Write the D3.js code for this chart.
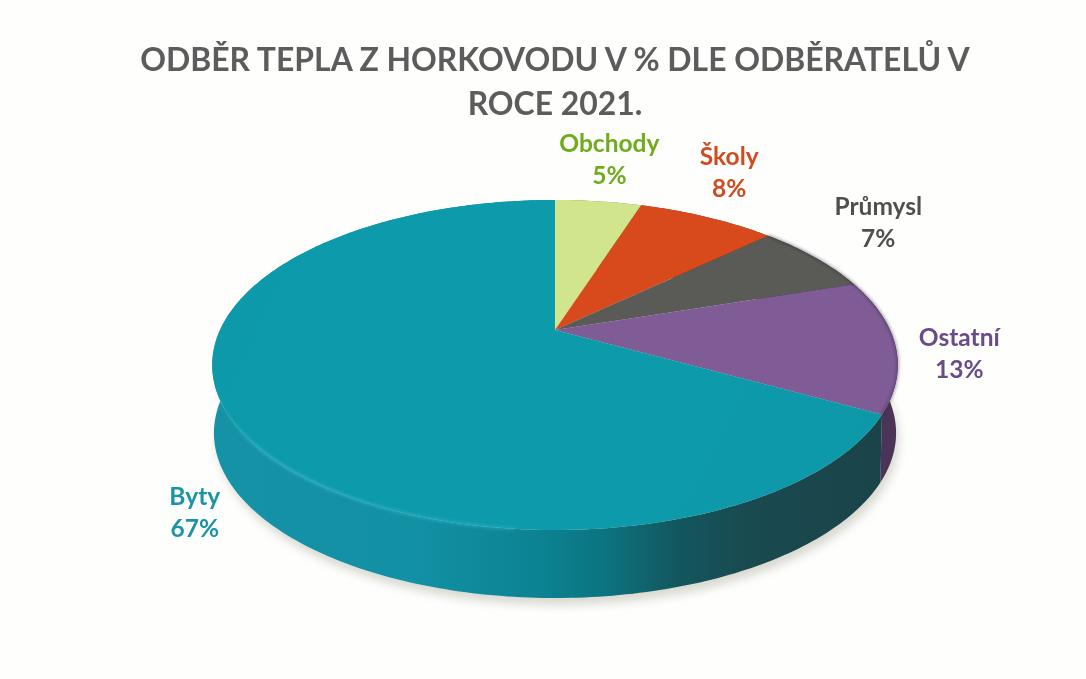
<!DOCTYPE html>
<html>
<head>
<meta charset="utf-8">
<title>Odběr tepla z horkovodu</title>
<style type="text/css">
html, body { margin: 0; padding: 0; background: #fefefd; }
svg { display: block; }
text { font-family: Lato, "Open Sans", sans-serif; font-weight: 700; }
.title { font-size: 31.9px; fill: #5b5b5b; text-anchor: middle; }
.label { font-size: 24.5px; text-anchor: middle; }
</style>
<script src="https://cdnjs.cloudflare.com/ajax/libs/d3/7.8.5/d3.min.js"></script>
</head>
<body>
<div id="chart"></div>
<script>
    // The dataset.
    var categories = ['Obchody', 'Školy', 'Průmysl', 'Ostatní', 'Byty'];
    var shares = [5, 8, 7, 13, 67];
    var titleLines = ['ODBĚR TEPLA Z HORKOVODU V % DLE ODBĚRATELŮ V', 'ROCE 2021.'];

    // Styles.
    var sliceColors = ['#d0e58c', '#d8481f', '#5a5a56', '#7f5b96', '#0e9cab'];
    var textColors = ['#6fab1c', '#cf4b20', '#50504c', '#6a4c8a', '#1a94a6'];
    var labelOffsets = [[11, -49], [22, -52], [63, -43], [64, 1], [-37, 85]];

    var width = 1086, height = 679;
    var cx = 555, cy = 330;          // where the slices meet
    var a = 335, b = 157.6, k = 0.212; // circle seen in perspective
    var depth = 68;

    var svg = d3.select('#chart').append('svg')
        .attr('width', width)
        .attr('height', height);

    var color = d3.scaleOrdinal().domain(categories).range(sliceColors);
    var textColor = d3.scaleOrdinal().domain(categories).range(textColors);

    var slices = d3.pie().sort(null).value(function(d) { return d; })(shares);

    // Angle on the pie to a point of the rim on screen.
    function rim(angle) {
        var d = 1 + k * Math.cos(angle);
        return [cx + a * Math.sin(angle) / d, cy - b * Math.cos(angle) / d];
    }

    function lowerRim(angle) {
        var p = rim(angle);
        return [cx + (p[0] - cx) * 0.995, p[1] + depth];
    }

    function angles(start, end) {
        var n = Math.max(2, Math.ceil((end - start) * 60));
        return d3.range(n + 1).map(function(i) { return start + (end - start) * i / n; });
    }

    var line = d3.line();

    var defs = svg.append('defs');

    defs.append('filter').attr('id', 'shadow')
        .attr('x', '-10%').attr('y', '-10%').attr('width', '120%').attr('height', '120%')
        .append('feGaussianBlur').attr('stdDeviation', 5);

    defs.append('filter').attr('id', 'soft')
        .append('feGaussianBlur').attr('stdDeviation', 0.45);

    defs.append('filter').attr('id', 'rimBlur')
        .attr('x', '-5%').attr('y', '-5%').attr('width', '110%').attr('height', '110%')
        .append('feGaussianBlur').attr('stdDeviation', 1.4);

    var wallStops = [
        [0, '#1692a6'], [0.3, '#1290a4'], [0.48, '#0c8292'], [0.57, '#0b7480'],
        [0.68, '#13565e'], [0.78, '#194a50'], [1, '#1a4348']
    ];
    var wallGradient = defs.append('linearGradient').attr('id', 'wallByty')
        .attr('gradientUnits', 'userSpaceOnUse')
        .attr('x1', 213).attr('y1', 0).attr('x2', 898).attr('y2', 0);
    wallGradient.selectAll('stop').data(wallStops).enter().append('stop')
        .attr('offset', function(d) { return d[0]; })
        .attr('stop-color', function(d) { return d[1]; });

    var rimGradient = defs.append('linearGradient').attr('id', 'rimByty')
        .attr('gradientUnits', 'userSpaceOnUse')
        .attr('x1', 213).attr('y1', 0).attr('x2', 620).attr('y2', 0);
    rimGradient.append('stop').attr('offset', 0).attr('stop-color', '#2fb2c4').attr('stop-opacity', 0);
    rimGradient.append('stop').attr('offset', 0.12).attr('stop-color', '#2fb2c4').attr('stop-opacity', 0.8);
    rimGradient.append('stop').attr('offset', 0.7).attr('stop-color', '#2fb2c4').attr('stop-opacity', 0.55);
    rimGradient.append('stop').attr('offset', 1).attr('stop-color', '#2fb2c4').attr('stop-opacity', 0);

    var topGradient = defs.append('linearGradient').attr('id', 'topByty')
        .attr('gradientUnits', 'userSpaceOnUse')
        .attr('x1', 213).attr('y1', 200).attr('x2', 880).attr('y2', 530);
    topGradient.append('stop').attr('offset', 0).attr('stop-color', '#1199a9');
    topGradient.append('stop').attr('offset', 0.5).attr('stop-color', '#0e9bab');
    topGradient.append('stop').attr('offset', 1).attr('stop-color', '#0a98a8');

    // Soft shadow under the disc.
    var whole = angles(0, 2 * Math.PI);
    svg.append('path')
        .attr('d', line(whole.map(function(t) {
            var p = lowerRim(t);
            return [p[0] + 3, p[1] + 7];
        })) + 'Z')
        .attr('fill', '#d9d9d2')
        .attr('filter', 'url(#shadow)');

    // Side wall, hidden at the back by the top face.
    svg.append('g').selectAll('path.wall').data(slices).enter()
        .append('path')
        .attr('class', 'wall')
        .attr('d', function(d) {
            var t = angles(d.startAngle, d.endAngle);
            return line(t.map(rim).concat(t.slice().reverse().map(lowerRim))) + 'Z';
        })
        .attr('fill', function(d, i) {
            return i === 4 ? 'url(#wallByty)' : d3.color(sliceColors[i]).darker(1.5);
        });

    // Top face.
    svg.append('g').selectAll('path.slice').data(slices).enter()
        .append('path')
        .attr('class', 'slice')
        .attr('d', function(d) {
            return line([[cx, cy]].concat(angles(d.startAngle, d.endAngle).map(rim))) + 'Z';
        })
        .attr('fill', function(d, i) {
            return i === 4 ? 'url(#topByty)' : color(categories[i]);
        })
        .attr('filter', 'url(#soft)');

    // Light edge of the bevel on the front left.
    svg.append('path')
        .attr('d', line(angles(1.03 * Math.PI, 1.44 * Math.PI).map(rim)))
        .attr('fill', 'none')
        .attr('stroke', 'url(#rimByty)')
        .attr('stroke-width', 3)
        .attr('filter', 'url(#rimBlur)');

    // Dark edge along the back right of the disc.
    svg.append('path')
        .attr('d', line(angles(slices[1].endAngle, slices[3].endAngle).map(rim)))
        .attr('fill', 'none')
        .attr('stroke', '#2e2638')
        .attr('stroke-opacity', 0.55)
        .attr('stroke-width', 2)
        .attr('filter', 'url(#rimBlur)');

    // Title.
    svg.selectAll('text.title').data(titleLines).enter()
        .append('text')
        .attr('class', 'title')
        .attr('x', 555)
        .attr('y', function(d, i) { return 71 + i * 44; })
        .attr('filter', 'url(#soft)')
        .text(function(d) { return d; });

    // Labels hang off the middle of each slice's rim.
    var labels = svg.selectAll('text.label').data(slices).enter()
        .append('text')
        .attr('class', 'label')
        .attr('fill', function(d, i) { return textColor(categories[i]); })
        .attr('filter', 'url(#soft)')
        .attr('transform', function(d, i) {
            var p = rim((d.startAngle + d.endAngle) / 2);
            return 'translate(' + (p[0] + labelOffsets[i][0]) + ',' + (p[1] + labelOffsets[i][1]) + ')';
        });

    labels.append('tspan')
        .attr('x', 0)
        .text(function(d, i) { return categories[i]; });

    labels.append('tspan')
        .attr('x', 0)
        .attr('dy', 32)
        .text(function(d) { return d.data + '%'; });
</script>
</body>
</html>
